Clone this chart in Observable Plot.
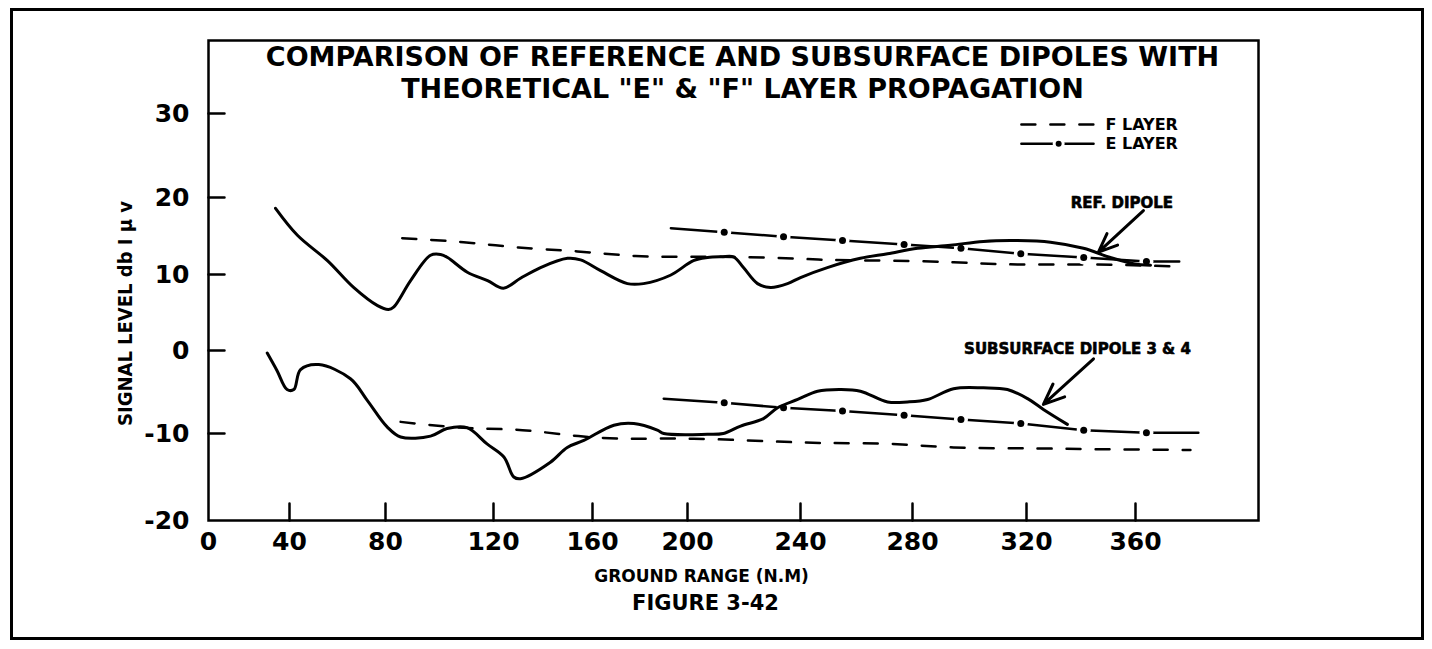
<!DOCTYPE html>
<html><head><meta charset="utf-8">
<script src="https://cdn.jsdelivr.net/npm/d3@7"></script>
<script src="https://cdn.jsdelivr.net/npm/@observablehq/plot@0.6"></script>
<style>
html,body{margin:0;padding:0;background:#fff;}
#wrap{position:relative;width:1432px;height:649px;overflow:hidden;background:#fff;}
#chart{position:absolute;left:0;top:0;}
#border{position:absolute;left:10px;top:8px;width:1408px;height:626px;border:3px solid #000;pointer-events:none;}
</style></head><body>
<div id="wrap"><div id="chart"></div><div id="border"></div></div>
<script>
// ---- data (x = ground range N.M, y = signal level dB) ----
const xTicks = [0, 40, 80, 120, 160, 200, 240, 280, 320, 360];
const yTicks = [-20, -10, 0, 10, 20, 30];

const refDipole = [[33.1,18.6],[43.3,15.1],[55.8,11.8],[66.7,8.3],[76.7,5.9],[81.1,5.4],[83.0,5.7],[89.3,9.2],[96.7,12.5],[100.4,12.6],[103,12.2],[110.3,10.3],[117.8,9.2],[124,8.2],[130.9,9.5],[139,10.9],[149.9,12.1],[155.2,11.9],[163.4,10.5],[174.7,8.8],[181.5,8.8],[192.8,9.9],[202.1,11.8],[207.1,12.2],[212,12.3],[216.3,12.3],[219.8,10.9],[224.8,8.8],[229.4,8.3],[235.4,8.8],[240,9.6],[249.6,10.9],[261.4,12.1],[271.1,12.7],[281.8,13.4],[293.3,13.8],[304.9,14.3],[316.8,14.4],[328.8,14.2],[340.9,13.4],[350.8,12.2],[359.3,11.4],[365.5,11.2]];

const subsurfaceDipole = [[29.0,-0.3],[33.8,-2.4],[38.8,-4.7],[41.8,-4.7],[44.6,-2.3],[52.2,-1.7],[65.4,-3.4],[72.4,-6.0],[80.6,-9.2],[85.6,-10.4],[96.7,-10.3],[102.8,-9.4],[110.2,-9.3],[117.6,-11.2],[124.2,-12.7],[128.2,-15.0],[130.9,-15.2],[143,-13.3],[149.8,-11.6],[156.5,-10.8],[169,-9.0],[177.4,-8.8],[187.3,-9.6],[190,-10.0],[207,-10.1],[212.7,-10.0],[218.8,-9.1],[226.9,-8.2],[231.9,-6.9],[239,-5.9],[246.1,-4.9],[254.3,-4.7],[261.4,-4.9],[271.1,-6.2],[278.2,-6.2],[285.3,-5.9],[294.4,-4.6],[304.9,-4.5],[313.3,-4.7],[320.4,-5.8],[326.2,-7.1],[335,-8.9]];

const fLayerUpper = [[86.2,14.7],[108.9,14.2],[130.1,13.5],[153.9,13.0],[178.1,12.4],[201.1,12.3],[228.3,12.2],[249.6,11.9],[271.1,11.8],[294.4,11.6],[316.8,11.3],[344.6,11.3],[377.6,11.0]];
const fLayerLower = [[85.6,-8.6],[108.9,-9.3],[131.7,-9.6],[154.3,-10.3],[177.3,-10.6],[202.1,-10.6],[229.4,-10.9],[250.7,-11.1],[272.1,-11.2],[294.4,-11.6],[317.9,-11.7],[344.6,-11.8],[380.1,-11.9]];

const eRange = [213, 234, 255, 277, 297, 318, 341, 364];
const eLayerUpper = [15.5, 14.9, 14.4, 13.9, 13.4, 12.7, 12.2, 11.7];
const eLayerLower = [-6.3, -6.9, -7.3, -7.8, -8.3, -8.8, -9.6, -9.9];
const eUpperEnds = [[193, 16.0], [376, 11.7]];
const eLowerEnds = [[190, -5.8], [383, -9.9]];

const titleLines = ["COMPARISON OF REFERENCE AND SUBSURFACE DIPOLES WITH", 'THEORETICAL "E" & "F" LAYER PROPAGATION'];
const yLabel = "SIGNAL LEVEL db I \u03bc v";
const xLabel = "GROUND RANGE (N.M)";
const figLabel = "FIGURE 3-42";
const annotations = [
  {label: "REF. DIPOLE", x: 355, y: 19.2},
  {label: "SUBSURFACE DIPOLE 3 & 4", x: 338.7, y: 0.2}
];
const arrows = [
  {x1: 362.9, y1: 18.3, x2: 346.4, y2: 12.9},
  {x1: 344.6, y1: -1.0, x2: 326.2, y2: -6.5}
];
const legendKeys = [
  {label: "F LAYER", y: 28.7},
  {label: "E LAYER", y: 26.4}
];
const legendSpan = [318.2, 344.6];
const legendDotX = 331.8;
const legendTextX = 349;

// ---- build line tables ----
const pts = arr => arr.map(([x, y]) => ({x, y}));
const eUpperPts = eRange.map((x, i) => ({x, y: eLayerUpper[i]}));
const eLowerPts = eRange.map((x, i) => ({x, y: eLayerLower[i]}));
const eUpperLine = [pts(eUpperEnds)[0], ...eUpperPts, pts(eUpperEnds)[1]];
const eLowerLine = [pts(eLowerEnds)[0], ...eLowerPts, pts(eLowerEnds)[1]];
const legendF = legendSpan.map(x => ({x, y: legendKeys[0].y}));
const legendE = legendSpan.map(x => ({x, y: legendKeys[1].y}));
const legendEDot = [{x: legendDotX, y: legendKeys[1].y}];

const xMin = xTicks[0], yMin = yTicks[0];
const ink = "#000";
const chart = Plot.plot({
  width: 1432,
  height: 649,
  marginLeft: 208,
  marginRight: 174,
  marginTop: 40,
  marginBottom: 129,
  style: {fontFamily: "'DejaVu Sans', sans-serif", fontWeight: "bold", color: ink, background: "#fff", overflow: "visible"},
  // hand-drawn axis: piecewise calibration of the printed tick positions
  x: {type: "linear", domain: [0, 40, 80, 120, 160, 200, 240, 280, 320, 360, 405],
      range: [208, 289, 385, 493, 592, 687, 800, 912, 1026, 1135, 1258]},
  y: {type: "linear", domain: [-20, -10, 0, 10, 20, 30, 38.7],
      range: [520, 433, 350, 274, 197, 113, 40]},
  marks: [
    Plot.frame({stroke: ink, strokeWidth: 2.5}),
    // short inward tick marks (plain strokes: arrow shape with zero head radius)
    Plot.vectorY(yTicks.filter(d => d > yMin), {y: d => d, frameAnchor: "left", length: 16, rotate: 90, anchor: "start", r: 0, stroke: ink, strokeWidth: 2.5}),
    Plot.vectorX(xTicks.filter(d => d > xMin), {x: d => d, frameAnchor: "bottom", length: 17, rotate: 0, anchor: "start", r: 0, stroke: ink, strokeWidth: 2.5}),
    Plot.axisX({ticks: xTicks, tickSize: 0, tickPadding: 12, fontSize: 25, label: null, tickFormat: d => String(d)}),
    Plot.axisY({ticks: yTicks, tickSize: 0, tickPadding: 19, fontSize: 25, label: null, tickFormat: d => String(d)}),

    // theoretical F layer (dashed)
    Plot.line(pts(fLayerUpper), {x: "x", y: "y", stroke: ink, strokeWidth: 2.5, strokeDasharray: "14,15", curve: "natural"}),
    Plot.line(pts(fLayerLower), {x: "x", y: "y", stroke: ink, strokeWidth: 2.5, strokeDasharray: "14,15", curve: "natural"}),

    // theoretical E layer (dash-dot)
    Plot.line(eUpperLine, {x: "x", y: "y", stroke: ink, strokeWidth: 2.5}),
    Plot.line(eLowerLine, {x: "x", y: "y", stroke: ink, strokeWidth: 2.5}),
    Plot.dot([...eUpperPts, ...eLowerPts], {x: "x", y: "y", r: 7, fill: "#fff"}),
    Plot.dot([...eUpperPts, ...eLowerPts], {x: "x", y: "y", r: 3.5, fill: ink}),

    // measured dipoles
    Plot.line(pts(refDipole), {x: "x", y: "y", stroke: ink, strokeWidth: 3, curve: "catmull-rom"}),
    Plot.line(pts(subsurfaceDipole), {x: "x", y: "y", stroke: ink, strokeWidth: 3, curve: "catmull-rom"}),

    // annotations
    Plot.arrow(arrows, {x1: "x1", y1: "y1", x2: "x2", y2: "y2", stroke: ink, strokeWidth: 3, headLength: 16, headAngle: 45}),
    Plot.text(annotations, {x: "x", y: "y", text: "label", fontSize: 15, fill: ink, stroke: ink, strokeWidth: 0.6}),

    // legend
    Plot.line(legendF, {x: "x", y: "y", stroke: ink, strokeWidth: 2.5, strokeDasharray: "14,15"}),
    Plot.line(legendE, {x: "x", y: "y", stroke: ink, strokeWidth: 2.5}),
    Plot.dot(legendEDot, {x: "x", y: "y", r: 6, fill: "#fff"}),
    Plot.dot(legendEDot, {x: "x", y: "y", r: 3, fill: ink}),
    Plot.text(legendKeys, {x: legendTextX, y: "y", text: "label", textAnchor: "start", fontSize: 16, fill: ink}),

    // titles
    Plot.text([titleLines[0]], {text: d => d, frameAnchor: "top", textAnchor: "middle", dx: 9, dy: 6, lineAnchor: "top", fontSize: 27, fill: ink}),
    Plot.text([titleLines[1]], {text: d => d, frameAnchor: "top", textAnchor: "middle", dx: 9, dy: 38, lineAnchor: "top", fontSize: 27, fill: ink}),
    Plot.text([yLabel], {text: d => d, frameAnchor: "left", textAnchor: "middle", lineAnchor: "middle", rotate: -90, dx: -83, dy: 33, fontSize: 20, fontFamily: "'DejaVu Sans Condensed', 'DejaVu Sans', sans-serif", fill: ink}),
    Plot.text([xLabel], {text: d => d, frameAnchor: "bottom", textAnchor: "middle", dx: -32, dy: 56, lineAnchor: "middle", fontSize: 17, fill: ink}),
    Plot.text([figLabel], {text: d => d, frameAnchor: "bottom", textAnchor: "middle", dx: -28, dy: 83, lineAnchor: "middle", fontSize: 21, fill: ink})
  ]
});
document.getElementById("chart").append(chart);
</script></body></html>
